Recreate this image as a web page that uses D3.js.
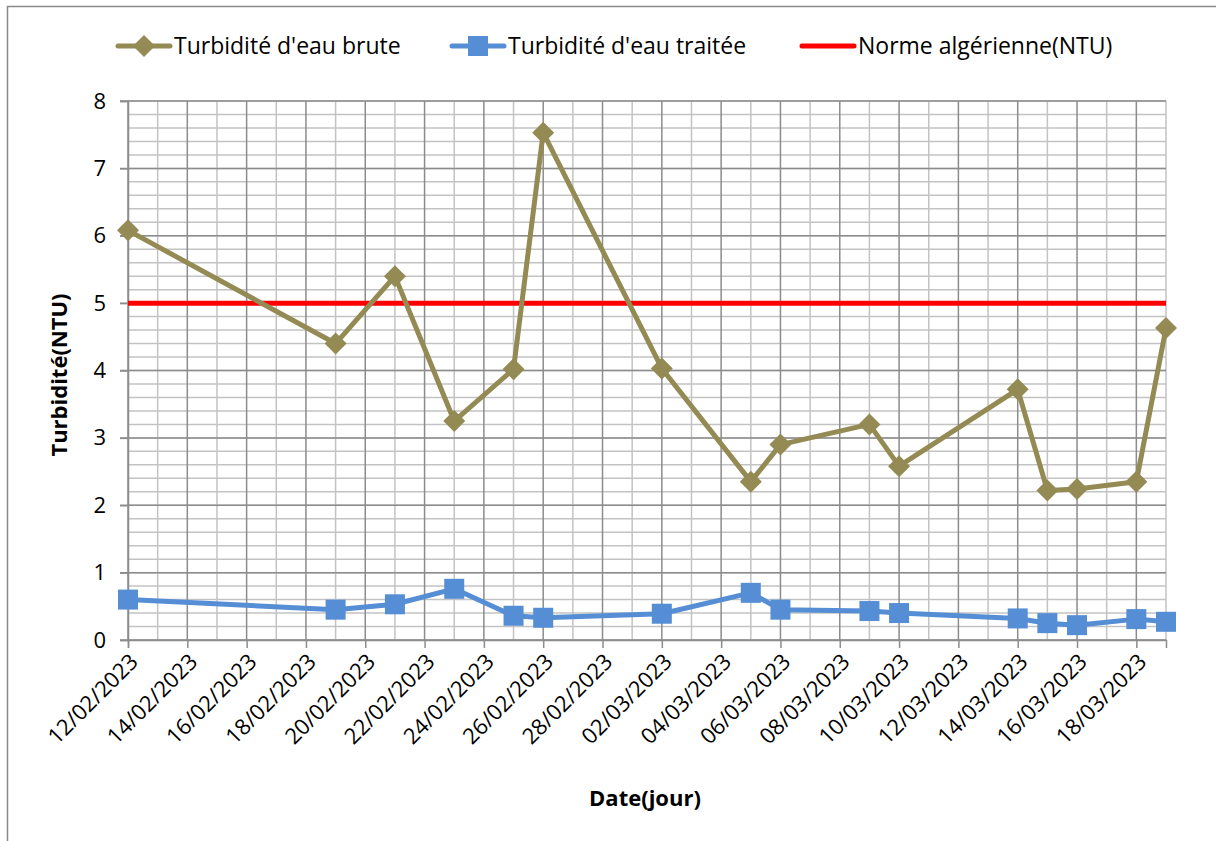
<!DOCTYPE html>
<html>
<head>
<meta charset="utf-8">
<script src="https://cdn.jsdelivr.net/npm/d3@7"></script>
<style>
  body { margin: 0; background: #fff; }
  svg { font-family: "Open Sans", sans-serif; }
</style>
</head>
<body>
<div id="chart"></div>
<script>
// dates des mesures
const dates = ['12/02/2023', '19/02/2023', '21/02/2023', '23/02/2023', '25/02/2023', '26/02/2023',
  '02/03/2023', '05/03/2023', '06/03/2023', '09/03/2023', '10/03/2023', '14/03/2023',
  '15/03/2023', '16/03/2023', '18/03/2023', '19/03/2023']
const brute = [6.08, 4.4, 5.4, 3.25, 4.02, 7.53, 4.03, 2.35, 2.9, 3.2, 2.58, 3.72, 2.22, 2.24, 2.35, 4.63]
const traitee = [0.6, 0.45, 0.53, 0.76, 0.36, 0.33, 0.39, 0.7, 0.45, 0.43, 0.4, 0.32, 0.25, 0.22, 0.31, 0.27]
const norme = 5
const seriesNames = ["Turbidité d'eau brute", "Turbidité d'eau traitée", 'Norme algérienne(NTU)']
const yTicks = [0, 1, 2, 3, 4, 5, 6, 7, 8]

const width = 1216, height = 841
const margin = { top: 101, left: 128, right: 50, bottom: 201 }
const parse = d3.utcParse('%d/%m/%Y')
const fmt = d3.utcFormat('%d/%m/%Y')

const svg = d3.select('#chart').append('svg')
  .attr('width', width)
  .attr('height', height)

// cadre
svg.append('rect')
  .attr('x', 7.5).attr('y', 6.5)
  .attr('width', width + 20).attr('height', height + 20)
  .attr('fill', 'none').attr('stroke', '#898989').attr('stroke-width', 1.5)

const x0 = parse(dates[0]), x1 = parse(dates[dates.length - 1])
const x = d3.scaleUtc().domain([x0, x1]).range([margin.left, width - margin.right])
const y = d3.scaleLinear().domain([0, 8]).range([height - margin.bottom, margin.top])

const g = svg.append('g')

// grille mineure / majeure
const days = d3.utcDay.range(x0, d3.utcDay.offset(x1, 1))
const minorY = d3.range(0, 8.01, 0.2)
g.selectAll('.hminor').data(minorY).enter().append('line')
  .attr('x1', x.range()[0]).attr('x2', x.range()[1])
  .attr('y1', d => y(d)).attr('y2', d => y(d))
  .attr('stroke', '#c3c3c3')
  .attr('stroke-width', 1.5)
g.selectAll('.vminor').data(days).enter().append('line')
  .attr('x1', d => x(d)).attr('x2', d => x(d))
  .attr('y1', y(0)).attr('y2', y(8))
  .attr('stroke', (d, i) => i % 2 === 0 ? '#8c8c8c' : '#c3c3c3')
  .attr('stroke-width', 1.5)
// lignes majeures horizontales par-dessus
g.selectAll('.hmajor').data(yTicks).enter().append('line')
  .attr('x1', x.range()[0] - 8).attr('x2', x.range()[1])
  .attr('y1', d => y(d)).attr('y2', d => y(d))
  .attr('stroke', '#8c8c8c').attr('stroke-width', 1.5)

// axe Y
const yAxis = g.append('g')
  .attr('transform', 'translate(' + x.range()[0] + ',0)')
  .call(d3.axisLeft(y).tickValues(yTicks).tickSize(8).tickPadding(14).tickFormat(d3.format('d')))
yAxis.select('.domain').attr('stroke', '#8c8c8c').attr('stroke-width', 1.5)
yAxis.selectAll('.tick line').attr('stroke', '#8c8c8c').attr('stroke-width', 1.5)
yAxis.selectAll('text').attr('font-size', 22).attr('fill', '#000')
  .attr('font-family', '"Open Sans", sans-serif')

// axe X
const labelDates = days.filter((d, i) => i % 2 === 0)
const xAxis = g.append('g')
  .attr('transform', 'translate(0,' + y(0) + ')')
  .call(d3.axisBottom(x).tickValues(labelDates).tickSize(8).tickFormat(fmt))
xAxis.select('.domain').attr('stroke', '#8c8c8c').attr('stroke-width', 1.5)
xAxis.selectAll('.tick line').attr('stroke', '#8c8c8c').attr('stroke-width', 1.5)
xAxis.selectAll('text')
  .attr('font-size', 22).attr('fill', '#000').attr('font-family', '"Open Sans", sans-serif')
  .attr('text-anchor', 'end')
  .attr('dy', 0).attr('y', 0)
  .attr('transform', 'translate(11,23) rotate(-45)')

// titres des axes
svg.append('text')
  .attr('x', 645)
  .attr('y', 806)
  .attr('text-anchor', 'middle')
  .attr('font-size', 22).attr('font-weight', 'bold')
  .text('Date(jour)')
svg.append('text')
  .attr('transform', 'translate(67,375) rotate(-90)')
  .attr('text-anchor', 'middle')
  .attr('font-size', 22).attr('font-weight', 'bold')
  .text('Turbidité(NTU)')

// norme
g.append('line')
  .attr('x1', x(x0)).attr('x2', x(x1))
  .attr('y1', y(norme)).attr('y2', y(norme))
  .attr('stroke', '#ff0000').attr('stroke-width', 5)

const line = d3.line().x(d => x(d[0])).y(d => y(d[1]))
const bruteData = dates.map((d, i) => [parse(d), brute[i]])
const traiteeData = dates.map((d, i) => [parse(d), traitee[i]])

// eau traitée
g.append('path').datum(traiteeData)
  .attr('d', line).attr('fill', 'none')
  .attr('stroke', '#558ed5').attr('stroke-width', 5).attr('stroke-linejoin', 'round')
g.selectAll('.sq').data(traiteeData).enter().append('rect')
  .attr('x', d => x(d[0]) - 10).attr('y', d => y(d[1]) - 10)
  .attr('width', 20).attr('height', 20)
  .attr('fill', '#558ed5')

// eau brute
g.append('path').datum(bruteData)
  .attr('d', line).attr('fill', 'none')
  .attr('stroke', '#948a54').attr('stroke-width', 5).attr('stroke-linejoin', 'round')
g.selectAll('.dm').data(bruteData).enter().append('path')
  .attr('transform', d => 'translate(' + x(d[0]) + ',' + y(d[1]) + ')')
  .attr('d', 'M0,-11L11,0L0,11L-11,0Z')
  .attr('fill', '#948a54')

// légende
const legend = svg.append('g').attr('transform', 'translate(0,46)')
const items = [
  { x: 116, color: '#948a54', marker: 'diamond' },
  { x: 450, color: '#558ed5', marker: 'square' },
  { x: 800, color: '#ff0000', marker: null }
]
items.forEach((it, i) => {
  const li = legend.append('g').attr('transform', 'translate(' + it.x + ',0)')
  li.append('line').attr('x1', 2).attr('x2', 54).attr('y1', 0).attr('y2', 0)
    .attr('stroke', it.color).attr('stroke-width', 5).attr('stroke-linecap', 'round')
  if (it.marker === 'diamond') {
    li.append('path').attr('d', 'M28,-11L39,0L28,11L17,0Z').attr('fill', it.color)
  } else if (it.marker === 'square') {
    li.append('rect').attr('x', 18).attr('y', -10).attr('width', 20).attr('height', 20).attr('fill', it.color)
  }
  li.append('text').attr('x', 58).attr('y', 8)
    .attr('font-size', 23).attr('fill', '#000')
    .text(seriesNames[i])
})
</script>
</body>
</html>
